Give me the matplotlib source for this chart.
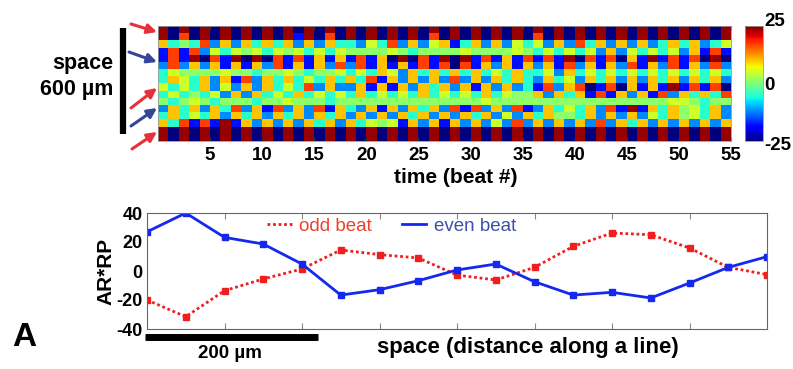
import matplotlib
matplotlib.use("Agg")
import matplotlib.pyplot as plt
import matplotlib.transforms as mtransforms
import numpy as np
from matplotlib.lines import Line2D
from matplotlib.patches import FancyArrowPatch

plt.rcParams["font.family"] = ["Liberation Sans", "DejaVu Sans"]

W, H = 793, 369

# ---- heatmap data: one char per beat ----
# K dark red, R red, O orange, Y yellow, G lime, C cyan, L light blue, B blue, N navy
level = {"K": 24, "R": 17, "O": 10, "Y": 5, "G": 1, "C": -5, "L": -12, "B": -18, "N": -25}
alt = "KN" * 27 + "K"
rows = [
    alt,
    "KNRNKNKNKNKNKBKNRN" + "KNKNKNKNRNKNKNKNKN" + "RNKNKNKNKNKNKNKNKNK",
    "OCGCRLOLOCOCOLOLOC" + "CLYCRLOLYOBCOLOLYC" + "YLOLRCOLOLOLCOCOLCY",
    "BRBRLYCYGYCYGYCYCY" + "GGGGYGCGGGGYGGGGYG" + "CYCYCYLOLYCYCYLOBRB",
    "BRBKNRBKNKNRBRBOBO" + "BRBONKNRBKNKBRBOBR" + "BRBKNRBRNOBKBRBRNKN",
    "LRLOLOBOBOLRBOBOLR" + "LRBOBOBRBRNRBOLOBO" + "LOBRLOBOLRBOLRBOLRL",
    "CYGGGGYGGCGGYGCGGY" + "CYCOYLOCOCOCOCYCOC" + "CYLOCYCYCYCYCYCYCYC",
    "COYCOLOBRLOCOCYCOC" + "OCRBOLOLOLRLOLOCOC" + "LOCYLOCOLOLOCOLOCOL",
    "YCYCOLYLOLOCYCRLOL" + "LOBOBOLOCOLOBOLOLC" + "BRLORNBRNOBOBKBRBRN",
    "CYCGCYLOLOCYCOCYCY" + "COCYCYCOCYCYCOCYGG" + "OLOCOBRBOLOBRLOCOCR",
    "GCGYGCGGGCGGYGGGCG" + "GGGGGGGGGGGGGYGGGG" + "GGGGGGGGGGGGGYYGCGG",
    "LOCOLOCRLOBRLOLRBO" + "CLOBOLOCOLRBRLOLRB" + "LOCYCOLRBKBOCOGYCOL",
    "COCYCOLOCOLOCOLOCO" + "LOLOLOCOLOLOCOLYLO" + "COGGCOLOLOLYCOGYCOL",
    "OCRBRBKBOLOLOLOCOL" + "OCYGYBOLOBOLOLYLRL" + "OLOLOLRLOCOLOLOLOLO",
    alt,
    alt,
]
beat_ticks = [5, 10, 15, 20, 25, 30, 35, 40, 45, 50, 55]
cbar_ticks = [-25, 0, 25]

# ---- profile along space ----
pos = np.arange(1, 18)
odd_beat = [-20, -31.5, -13.6, -5.5, 1.4, 14.5, 11.3, 9, -2.8, -6.2, 2.5, 17, 26.2, 25, 15.9, 2.5, -2.5]
even_beat = [27, 40, 23.2, 18.6, 4.8, -16.6, -12.9, -6.7, 0.7, 4.8, -7.4, -16.6, -14.7, -18.6, -8.3, 2.5, 9.9]
y_ticks = [-40, -20, 0, 20, 40]

grid = np.array([[level[c] for c in r] for r in rows], dtype=float)


def box(x0, y0, x1, y1):
    return [x0 / W, 1 - y1 / H, (x1 - x0) / W, (y1 - y0) / H]


def fx(x):
    return x / W


def fy(y):
    return 1 - y / H


fig = plt.figure(figsize=(W / 100, H / 100), dpi=100)

# heatmap
ax = fig.add_axes(box(158, 26, 731, 141))
im = ax.imshow(grid, cmap="jet", vmin=-25, vmax=25, aspect="auto",
               interpolation="nearest", extent=[0, len(rows[0]), len(rows), 0])
ax.set_xticks(beat_ticks)
ax.set_xticklabels([str(t) for t in beat_ticks], fontsize=13.5, fontweight="bold")
ax.set_yticks([])
ax.tick_params(axis="x", direction="in", length=3, width=0.8, color="#333333",
               top=True, pad=4)
for s in ax.spines.values():
    s.set_color("#999999")
    s.set_linewidth(0.6)
fig.text(fx(456), fy(177), "time (beat #)", fontsize=15, fontweight="bold",
         ha="center", va="center")

cax = fig.add_axes(box(745, 26, 763, 141))
cb = fig.colorbar(im, cax=cax, ticks=cbar_ticks)
cb.outline.set_edgecolor("#999999")
cb.outline.set_linewidth(0.6)
cax.tick_params(length=0, pad=1)
cax.set_yticklabels([str(t) for t in cbar_ticks], fontsize=13.5, fontweight="bold")
labs = cax.get_yticklabels()
labs[0].set_transform(labs[0].get_transform() +
                      mtransforms.ScaledTranslation(0, -0.02, fig.dpi_scale_trans))
labs[2].set_transform(labs[2].get_transform() +
                      mtransforms.ScaledTranslation(0, 0.06, fig.dpi_scale_trans))

# space bar + arrows
fig.add_artist(Line2D([fx(123), fx(123)], [fy(28), fy(134)], color="black", lw=4.5,
                      solid_capstyle="butt"))
fig.text(fx(113), fy(64), "space", fontsize=15.5, fontweight="bold", ha="right", va="center")
fig.text(fx(113), fy(90), "600 \u00b5m", fontsize=15.5, fontweight="bold", ha="right", va="center")
red_arrow = "#e8303a"
blue_arrow = "#34459a"
arrows = [((131, 24), (157, 32), red_arrow), ((129, 52), (157, 62), blue_arrow),
          ((131, 108), (157, 88), red_arrow), ((131, 126), (157, 108), blue_arrow),
          ((132, 149), (157, 132), red_arrow)]
for (x0, y0), (x1, y1), c in arrows:
    fig.add_artist(FancyArrowPatch((fx(x0), fy(y0)), (fx(x1), fy(y1)),
                                   transform=fig.transFigure, arrowstyle="-|>",
                                   mutation_scale=14, color=c, lw=2.2,
                                   shrinkA=0, shrinkB=0))

# profile plot
ax2 = fig.add_axes(box(147, 213, 767, 329))
ax2.plot(pos, odd_beat, color="#f01e1e", lw=2, ls=(0, (1, 1)), marker="s", ms=4)
ax2.plot(pos, even_beat, color="#1428f0", lw=2, marker="s", ms=4)
ax2.set_xlim(1, 17)
ax2.set_ylim(-40, 40)
ax2.set_xticks([3, 5, 7, 9, 11, 13, 15])
ax2.set_xticklabels([])
ax2.set_yticks(y_ticks)
ax2.set_yticklabels([str(t) for t in y_ticks], fontsize=13, fontweight="bold")
ax2.tick_params(axis="x", direction="in", length=4, color="#888888", top=True)
ax2.tick_params(axis="y", length=0, pad=3)
for s in ax2.spines.values():
    s.set_color("#666666")
    s.set_linewidth(0.8)
ax2.set_ylabel("AR*RP", fontsize=15, fontweight="bold", labelpad=1)

handles = [Line2D([], [], color="#f01e1e", lw=2, ls=(0, (1, 1))),
           Line2D([], [], color="#1428f0", lw=2)]
leg = ax2.legend(handles, ["odd beat", "even beat"], ncol=2, frameon=False,
                 loc="center left", bbox_to_anchor=(0.194, 0.885), fontsize=13.5,
                 borderpad=0, borderaxespad=0,
                 handlelength=1.3, handletextpad=0.4, columnspacing=1.6)
for t, c in zip(leg.get_texts(), ["#f0402a", "#3c50aa"]):
    t.set_color(c)

fig.add_artist(Line2D([fx(145), fx(318)], [fy(336.5), fy(336.5)], color="black", lw=5,
                      solid_capstyle="butt"))
fig.text(fx(230), fy(353), "200 \u00b5m", fontsize=13.5, fontweight="bold", ha="center", va="center")
fig.text(fx(377), fy(348), "space (distance along a line)", fontsize=16, fontweight="bold",
         ha="left", va="center")
fig.text(fx(24), fy(338), "A", fontsize=24, fontweight="bold", ha="center", va="center")

fig.savefig("out.png", dpi=100)
